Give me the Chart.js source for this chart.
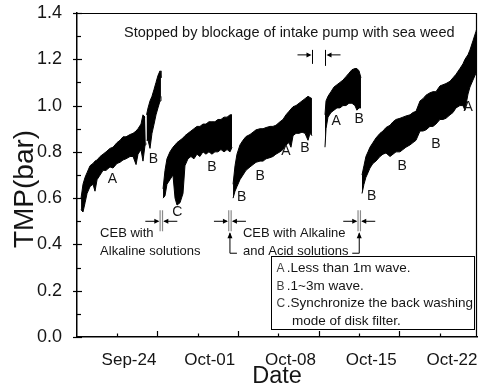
<!DOCTYPE html>
<html>
<head>
<meta charset="utf-8">
<script src="https://cdn.jsdelivr.net/npm/chart.js@4/dist/chart.umd.min.js"></script>
<style>
  html, body { margin: 0; padding: 0; background: #fff; }
  canvas { display: block; }
</style>
</head>
<body>
<canvas id="tmpChart" width="478" height="392"></canvas>
<script>
// Day number counted from 1 September (Sep-24 = 24, Oct-01 = 31, ...).
// null separates the filtration runs between cleanings / stops.
const dayNum = [
  19.84, 20.01, 20.19, 20.36, 20.62, 20.88, 21.05, 21.23, 21.49, 21.75, 22.01, 22.35, 22.61, 22.96, 23.22, 23.48,
  23.74, 24.09, 24.35, 24.61, 24.78, 25.04, 25.21, 25.39, 25.46,
  null,
  25.52, 25.65, 25.82, 25.99, 26.17, 26.34, 26.51, 26.69, 26.77,
  null,
  26.95, 27.12, 27.29, 27.55, 27.81, 27.99, 28.16, 28.42, 28.68, 28.85, 29.11, 29.37, 29.63, 29.89, 30.15, 30.41,
  30.67, 30.93, 31.19, 31.45, 31.71, 31.97, 32.24, 32.50, 32.76, 32.93,
  null,
  33.02, 33.19, 33.36, 33.62, 33.88, 34.14, 34.49, 34.75, 35.01, 35.36, 35.62, 35.88, 36.22, 36.48, 36.74, 37.09,
  37.35, 37.61, 37.87, 38.04, 38.22, 38.48, 38.74, 39.00, 39.26, 39.52, 39.69, 39.86,
  null,
  40.99, 41.08, 41.25, 41.51, 41.77, 42.03, 42.29, 42.55, 42.81, 43.07, 43.33, 43.59, 43.76, 43.94, 44.11,
  null,
  44.20, 44.37, 44.54, 44.72, 44.89, 45.15, 45.41, 45.76, 46.02, 46.28, 46.63, 46.89, 47.15, 47.49, 47.75, 48.01,
  48.36, 48.62, 48.88, 49.23, 49.49, 49.75, 50.09, 50.35, 50.61, 50.96, 51.22, 51.48, 51.83, 52.09, 52.35, 52.69,
  52.95, 53.13, 53.39, 53.56, 53.82, 54.08, 54.25
];

// Upper edge of the TMP trace (bar)
const tmpMax = [
  0.60, 0.66, 0.69, 0.71, 0.74, 0.75, 0.76, 0.765, 0.78, 0.79, 0.80, 0.815, 0.82, 0.84, 0.85, 0.865,
  0.865, 0.875, 0.88, 0.89, 0.90, 0.92, 0.96, 0.95, 0.95,
  null,
  0.96, 0.99, 1.02, 1.04, 1.07, 1.10, 1.13, 1.15, 1.12,
  null,
  0.64, 0.72, 0.77, 0.80, 0.82, 0.83, 0.84, 0.85, 0.86, 0.87, 0.88, 0.89, 0.90, 0.91, 0.91, 0.92,
  0.92, 0.93, 0.93, 0.93, 0.94, 0.94, 0.95, 0.95, 0.96, 0.96,
  null,
  0.66, 0.74, 0.79, 0.83, 0.85, 0.866, 0.875, 0.885, 0.895, 0.90, 0.90, 0.905, 0.91, 0.91, 0.915, 0.93,
  0.94, 0.96, 0.975, 0.985, 0.995, 1.00, 1.01, 1.02, 1.03, 1.04, 1.035, 1.03,
  null,
  0.96, 1.02, 1.04, 1.06, 1.08, 1.09, 1.10, 1.11, 1.125, 1.14, 1.155, 1.16, 1.16, 1.15, 1.12,
  null,
  0.70, 0.74, 0.78, 0.80, 0.82, 0.84, 0.86, 0.88, 0.89, 0.905, 0.915, 0.93, 0.94, 0.945, 0.95, 0.955,
  0.96, 0.97, 0.975, 1.02, 1.03, 1.045, 1.055, 1.06, 1.06, 1.085, 1.09, 1.095, 1.105, 1.12, 1.135, 1.16,
  1.18, 1.20, 1.22, 1.24, 1.28, 1.32, 1.35
];

// Lower edge of the TMP trace (bar), including back-wash dips
const tmpMin = [
  0.55, 0.54, 0.58, 0.62, 0.65, 0.66, 0.63, 0.68, 0.70, 0.72, 0.72, 0.735, 0.73, 0.75, 0.755, 0.765,
  0.77, 0.78, 0.78, 0.745, 0.79, 0.81, 0.76, 0.83, 0.84,
  null,
  0.85, 0.85, 0.815, 0.88, 0.92, 0.96, 0.99, 1.02, 1.04,
  null,
  0.60, 0.61, 0.66, 0.68, 0.70, 0.60, 0.57, 0.58, 0.62, 0.74, 0.77, 0.78, 0.77, 0.79, 0.78, 0.80,
  0.79, 0.80, 0.79, 0.80, 0.80, 0.81, 0.80, 0.81, 0.80, 0.82,
  null,
  0.60, 0.63, 0.65, 0.68, 0.70, 0.72, 0.735, 0.745, 0.755, 0.76, 0.76, 0.77, 0.775, 0.78, 0.79, 0.80,
  0.81, 0.83, 0.84, 0.82, 0.87, 0.88, 0.88, 0.885, 0.88, 0.85, 0.88, 0.87,
  null,
  0.82, 0.90, 0.95, 0.97, 0.98, 0.99, 0.99, 1.00, 1.00, 1.01, 1.01, 1.00, 0.98, 0.99, 0.99,
  null,
  0.62, 0.66, 0.69, 0.71, 0.73, 0.75, 0.76, 0.78, 0.79, 0.795, 0.78, 0.79, 0.80, 0.80, 0.81, 0.82,
  0.83, 0.84, 0.85, 0.89, 0.89, 0.895, 0.91, 0.91, 0.92, 0.94, 0.94, 0.945, 0.96, 0.97, 0.99, 1.00,
  1.00, 0.98, 1.05, 1.08, 1.11, 1.14, 1.17
];

// Axis ticks
const weekDays   = [24, 31, 38, 45, 52];
const weekLabels = ['Sep-24', 'Oct-01', 'Oct-08', 'Oct-15', 'Oct-22'];
const xMinorDays = [22.95, 29.95, 36.95, 43.95, 50.95];
const xMajorDays = [26.45, 33.45, 40.45, 47.45];
const yMajor = [0, 0.2, 0.4, 0.6, 0.8, 1.0, 1.2, 1.4];
const yMinor = [0.1, 0.3, 0.5, 0.7, 0.9, 1.1, 1.3];

// Wave condition letters placed on the trace
const waveNotes = [
  ['A', 22.55, 0.681], ['B', 26.11, 0.768], ['C', 28.19, 0.541], ['B', 31.19, 0.732],
  ['B', 33.77, 0.606], ['B', 35.36, 0.696], ['A', 37.61, 0.804], ['B', 39.26, 0.816],
  ['A', 41.96, 0.934], ['B', 43.96, 0.941], ['B', 45.04, 0.610], ['B', 47.69, 0.739],
  ['B', 50.61, 0.833], ['A', 53.41, 0.993]
];

// Split the trace into runs: each run is an upper/lower pair filled between
const runs = [];
let run = null;
dayNum.forEach((d, i) => {
  if (d === null) { run = null; return; }
  if (!run) { run = { hi: [], lo: [] }; runs.push(run); }
  run.hi.push({ x: d, y: tmpMax[i] });
  run.lo.push({ x: d, y: tmpMin[i] });
});

const datasets = [];
runs.forEach(r => {
  datasets.push({ data: r.hi, borderColor: '#000', backgroundColor: '#000', borderWidth: 1,
                  pointRadius: 0, tension: 0, fill: '+1' });
  datasets.push({ data: r.lo, borderColor: '#000', backgroundColor: '#000', borderWidth: 1,
                  pointRadius: 0, tension: 0, fill: false });
});

const FONT = '"Liberation Sans", Arial, sans-serif';
const INK = '#151515';

function arrowHead(ctx, x, y, dir) {
  ctx.beginPath();
  if (dir === 'r') { ctx.moveTo(x, y); ctx.lineTo(x - 5, y - 2.5); ctx.lineTo(x - 5, y + 2.5); }
  if (dir === 'l') { ctx.moveTo(x, y); ctx.lineTo(x + 5, y - 2.5); ctx.lineTo(x + 5, y + 2.5); }
  if (dir === 'u') { ctx.moveTo(x, y); ctx.lineTo(x - 2.5, y + 6); ctx.lineTo(x + 2.5, y + 6); }
  ctx.closePath();
  ctx.fill();
}

function hLine(ctx, x1, x2, y) {
  ctx.beginPath(); ctx.moveTo(x1, y); ctx.lineTo(x2, y); ctx.stroke();
}
function vLine(ctx, x, y1, y2) {
  ctx.beginPath(); ctx.moveTo(x, y1); ctx.lineTo(x, y2); ctx.stroke();
}

// Cleaning marker: double bar with arrows pointing at it
function cebMarker(ctx, px, py) {
  ctx.strokeStyle = '#8a8a8a'; ctx.lineWidth = 1.2;
  vLine(ctx, px - 1.2, py - 11, py + 10);
  vLine(ctx, px + 1.2, py - 11, py + 10);
  ctx.strokeStyle = '#000'; ctx.fillStyle = '#000'; ctx.lineWidth = 1;
  hLine(ctx, px - 16, px - 3, py);
  arrowHead(ctx, px - 2, py, 'r');
  hLine(ctx, px + 16, px + 3, py);
  arrowHead(ctx, px + 2, py, 'l');
}

const decorations = {
  id: 'decorations',
  afterDraw(chart) {
    const ctx = chart.ctx;
    const xs = chart.scales.x, ys = chart.scales.y;
    const X = v => xs.getPixelForValue(v), Y = v => ys.getPixelForValue(v);
    const a = chart.chartArea;
    ctx.save();

    // frame top and right
    ctx.strokeStyle = '#000'; ctx.lineWidth = 1.2;
    hLine(ctx, a.left, a.right, a.top + 0.5);
    vLine(ctx, a.right - 0.5, a.top, a.bottom);

    // tick marks
    ctx.lineWidth = 1.2;
    yMajor.forEach(v => hLine(ctx, a.left - 4, a.left + 5, Math.round(Y(v)) + 0.5));
    yMinor.forEach(v => hLine(ctx, a.left, a.left + 4, Math.round(Y(v)) + 0.5));
    xMajorDays.forEach(d => vLine(ctx, Math.round(X(d)) + 0.5, a.bottom, a.bottom - 6));
    xMinorDays.forEach(d => vLine(ctx, Math.round(X(d)) + 0.5, a.bottom, a.bottom - 3.5));

    // axis titles
    ctx.fillStyle = INK;
    ctx.font = '23.5px ' + FONT;
    ctx.textAlign = 'center'; ctx.textBaseline = 'middle';
    ctx.fillText('Date', (a.left + a.right) / 2, 377);
    ctx.save();
    ctx.translate(25, 189);
    ctx.rotate(-Math.PI / 2);
    ctx.font = '28px ' + FONT;
    ctx.fillText('TMP(bar)', 0, 0);
    ctx.restore();

    // wave letters
    ctx.font = '14px ' + FONT;
    ctx.textAlign = 'center'; ctx.textBaseline = 'middle';
    waveNotes.forEach(n => ctx.fillText(n[0], X(n[1]), Y(n[2])));

    // stop note
    ctx.textAlign = 'left';
    ctx.font = '14.5px ' + FONT;
    ctx.fillText('Stopped by blockage of intake pump with sea weed', X(23.57), Y(1.315));
    ctx.strokeStyle = '#000'; ctx.fillStyle = '#000'; ctx.lineWidth = 1;
    const s1 = Math.round(X(39.86)) + 0.5, s2 = Math.round(X(40.99)) + 0.5, sy = Y(1.219);
    vLine(ctx, s1, sy - 5, sy + 9);
    vLine(ctx, s2, sy - 5, sy + 11);
    hLine(ctx, s1 - 15, s1 - 3, sy);
    arrowHead(ctx, s1 - 1, sy, 'r');
    hLine(ctx, s2 + 15, s2 + 3, sy);
    arrowHead(ctx, s2 + 1, sy, 'l');

    // cleaning markers
    const my = Y(0.50);
    const m1 = X(26.8), m2 = X(32.75), m3 = X(43.96);
    cebMarker(ctx, m1, my);
    cebMarker(ctx, m2, my);
    cebMarker(ctx, m3, my);

    // brackets below the alkaline + acid markers
    const by = Y(0.362);
    ctx.strokeStyle = '#000'; ctx.fillStyle = '#000'; ctx.lineWidth = 1;
    vLine(ctx, m2, by, my + 12);
    arrowHead(ctx, m2, my + 11, 'u');
    hLine(ctx, m2, m2 + 7, by);
    vLine(ctx, m3, by, my + 12);
    arrowHead(ctx, m3, my + 11, 'u');
    hLine(ctx, m3 - 7, m3, by);

    // cleaning notes
    ctx.fillStyle = INK;
    ctx.font = '13px ' + FONT;
    ctx.textAlign = 'left'; ctx.textBaseline = 'middle';
    ctx.fillText('CEB with', X(21.49), Y(0.449));
    ctx.fillText('Alkaline solutions', X(21.49), Y(0.371));
    ctx.fillText('CEB with Alkaline', X(33.88), Y(0.449));
    ctx.fillText('and Acid solutions', X(33.88), Y(0.371));

    // key box
    const bx1 = Math.round(X(36.31)) + 0.5, bx2 = Math.round(X(53.91)) + 0.5;
    const by1 = Math.round(Y(0.349)) + 0.5, by2 = Math.round(Y(0.033)) + 0.5;
    ctx.strokeStyle = '#000'; ctx.lineWidth = 1;
    ctx.strokeRect(bx1, by1, bx2 - bx1, by2 - by1);
    ctx.font = '12px ' + FONT;
    ctx.fillStyle = '#444';
    ctx.fillText('A', X(36.78), Y(0.295));
    ctx.fillText('B', X(36.78), Y(0.219));
    ctx.fillText('C', X(36.78), Y(0.146));
    ctx.font = '13.5px ' + FONT;
    ctx.fillStyle = INK;
    ctx.fillText('.Less than 1m wave.', X(37.68), Y(0.295));
    ctx.fillText('.1~3m wave.', X(37.68), Y(0.219));
    ctx.fillText('.Synchronize the back washing', X(37.68), Y(0.146));
    ctx.fillText('mode of disk filter.', X(38.13), Y(0.070));

    ctx.restore();
  }
};

new Chart(document.getElementById('tmpChart'), {
  type: 'line',
  data: { datasets },
  plugins: [decorations],
  options: {
    responsive: false,
    animation: false,
    devicePixelRatio: 1,
    layout: { padding: { top: 13, right: 1, left: 0, bottom: 0 } },
    plugins: { legend: { display: false }, tooltip: { enabled: false } },
    elements: { line: { borderJoinStyle: 'miter' } },
    scales: {
      x: {
        type: 'linear',
        min: 19.49,
        max: 54.17,
        afterFit: s => { s.height = 55; s.paddingLeft = 0; s.paddingRight = 0; },
        afterBuildTicks: s => { s.ticks = weekDays.map(v => ({ value: v })); },
        grid: { display: false },
        border: { display: true, color: '#000', width: 1.5 },
        ticks: {
          autoSkip: false, maxRotation: 0, padding: 5, color: INK,
          font: { family: FONT, size: 17 },
          callback: v => weekLabels[weekDays.indexOf(v)]
        }
      },
      y: {
        min: 0,
        max: 1.4,
        afterFit: s => { s.width = 77; s.paddingTop = 0; s.paddingBottom = 0; },
        afterBuildTicks: s => { s.ticks = yMajor.map(v => ({ value: v })); },
        grid: { display: false },
        border: { display: true, color: '#000', width: 1.5 },
        ticks: {
          padding: 7, color: INK,
          font: { family: FONT, size: 18 },
          callback: v => v.toFixed(1)
        }
      }
    }
  }
});
</script>
</body>
</html>
